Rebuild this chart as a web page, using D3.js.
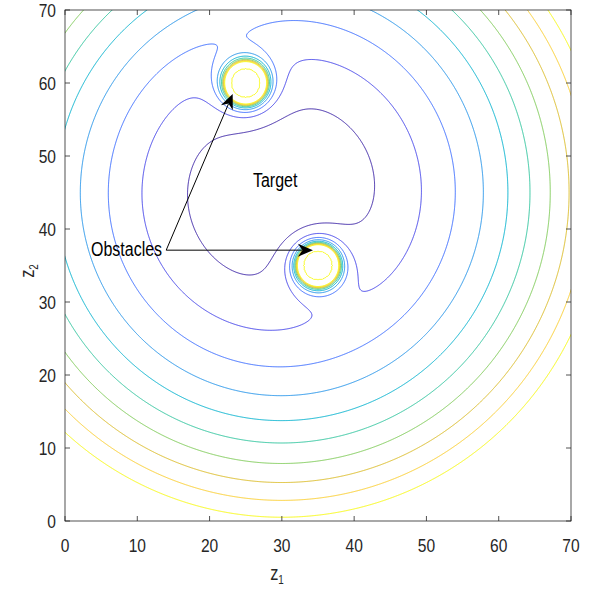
<!DOCTYPE html>
<html><head><meta charset="utf-8">
<script src="https://cdn.jsdelivr.net/npm/d3@7"></script>
<style>body{margin:0;background:#fff}svg{display:block}</style>
</head><body>
<svg id="c" width="590" height="592"></svg>
<script>
// ---- data ----
const xTicks = [0, 10, 20, 30, 40, 50, 60, 70];
const yTicks = [0, 10, 20, 30, 40, 50, 60, 70];
const target = [30, 45];
const obstacleX = [25, 35];
const obstacleY = [60, 35];
const obstacleRadius = [2, 2];
const attractGain = 0.5;
const repelGain = 6360;
const repelPower = 1.35;
const levels = [90, 190, 290, 390, 490, 590, 690, 790, 890, 990];
const insideValue = 940;
const targetLabel = {text: "Target", z1: 26.0, z2: 45.8};
const obstacleLabel = {text: "Obstacles", z1: 3.6, z2: 36.3};
const arrowStart = [14.0, 37.1];
const arrowEndsZ1 = [23.2, 34.3];
const arrowEndsZ2 = [58.5, 37.1];

// ---- styles ----
const levelColors = ["#3e26a8","#4747eb","#3e6fff","#2796eb","#08b4d0","#31c69f","#80cc59","#dcbd29","#fccf30","#f9fb14"];
const axisColor = "#262626";

function hasFont(f){
  const c=document.createElement('canvas').getContext('2d');
  c.font='40px monospace'; const w1=c.measureText('Obstacles 0123').width;
  c.font='40px "'+f+'", monospace'; const w2=c.measureText('Obstacles 0123').width;
  return Math.abs(w1-w2)>1;
}
const narrow = hasFont("Liberation Sans Narrow");
const fontFam = narrow ? '"Liberation Sans Narrow"' : '"Liberation Sans", Arial, sans-serif';
const sx = narrow ? 1 : 0.82;

const svg = d3.select('#c');
const X = d3.scaleLinear().domain([0,70]).range([65,571]);
const Y = d3.scaleLinear().domain([0,70]).range([521,10]);

// ---- field grid ----
const g0 = -3, step = 0.1, n = Math.round(76/step)+1;
const vals = new Float64Array(n*n);
for (let j=0;j<n;j++){
  const zy = g0 + j*step;
  for (let i=0;i<n;i++){
    const zx = g0 + i*step;
    let u = attractGain*((zx-target[0])**2 + (zy-target[1])**2);
    let inside = false;
    for (let k=0;k<obstacleX.length;k++){
      const r2 = (zx-obstacleX[k])**2 + (zy-obstacleY[k])**2;
      const R2 = obstacleRadius[k]**2;
      if (r2 <= R2){ inside = true; break; }
      u += repelGain/Math.pow(r2-R2, repelPower);
    }
    vals[j*n+i] = inside ? insideValue : Math.min(u, 1e6);
  }
}
const cs = d3.contours().size([n,n]).thresholds(levels)(vals);
const proj = d3.geoTransform({point(x,y){ this.stream.point(X(g0+(x-0.5)*step), Y(g0+(y-0.5)*step)); }});
const path = d3.geoPath(proj);

svg.append('defs').append('clipPath').attr('id','clip')
  .append('rect').attr('x',X(0)).attr('y',Y(70)).attr('width',X(70)-X(0)).attr('height',Y(0)-Y(70));

const plot = svg.append('g').attr('clip-path','url(#clip)');
plot.selectAll('path.lev').data(cs).join('path')
  .attr('class','lev')
  .attr('d', path)
  .attr('fill','none')
  .attr('stroke',(d,i)=>levelColors[i])
  .attr('stroke-width',1);

// ---- axes ----
const ax = svg.append('g');
ax.append('rect').attr('x',X(0)).attr('y',Y(70)).attr('width',X(70)-X(0)).attr('height',Y(0)-Y(70))
  .attr('fill','none').attr('stroke',axisColor).attr('stroke-width',0.8);
const tl = 5;
xTicks.forEach(t=>{
  ax.append('line').attr('x1',X(t)).attr('x2',X(t)).attr('y1',Y(0)).attr('y2',Y(0)-tl).attr('stroke',axisColor).attr('stroke-width',0.8);
  ax.append('line').attr('x1',X(t)).attr('x2',X(t)).attr('y1',Y(70)).attr('y2',Y(70)+tl).attr('stroke',axisColor).attr('stroke-width',0.8);
});
yTicks.forEach(t=>{
  ax.append('line').attr('y1',Y(t)).attr('y2',Y(t)).attr('x1',X(0)).attr('x2',X(0)+tl).attr('stroke',axisColor).attr('stroke-width',0.8);
  ax.append('line').attr('y1',Y(t)).attr('y2',Y(t)).attr('x1',X(70)).attr('x2',X(70)-tl).attr('stroke',axisColor).attr('stroke-width',0.8);
});
function txt(parent, s, x, y, anchor, size, rot){
  const g = parent.append('g').attr('transform',`translate(${x},${y})`+(rot?` rotate(${rot})`:'')+` scale(${sx},1)`);
  return g.append('text').attr('x',0).attr('y',0).attr('text-anchor',anchor)
    .attr('font-family',fontFam).attr('font-size',size).attr('fill',axisColor).text(s);
}
xTicks.forEach(t=> txt(ax, String(t), X(t), 552, 'middle', 19));
yTicks.forEach(t=> txt(ax, String(t), 56, Y(t)+7, 'end', 19));
// axis titles
const xt = txt(ax, 'z', 277, 580, 'middle', 20);
xt.append('tspan').attr('dy',4).attr('font-size',12).text('1');
const yt = txt(ax, 'z', 34, 271, 'middle', 20, -90);
yt.append('tspan').attr('dy',4).attr('font-size',12).text('2');

// ---- annotations ----
const ann = svg.append('g');
txt(ann, targetLabel.text, X(targetLabel.z1), Y(targetLabel.z2), 'start', 19.5).attr('fill','#000');
txt(ann, obstacleLabel.text, X(obstacleLabel.z1), Y(obstacleLabel.z2), 'start', 19.5).attr('fill','#000');
arrowEndsZ1.forEach((ez,i)=>{
  const x1=X(arrowStart[0]), y1=Y(arrowStart[1]), x2=X(ez), y2=Y(arrowEndsZ2[i]);
  const a=Math.atan2(y2-y1,x2-x1), L=15, W=6.5;
  const bx=x2-L*Math.cos(a), by=y2-L*Math.sin(a);
  ann.append('line').attr('x1',x1).attr('y1',y1).attr('x2',bx+4*Math.cos(a)).attr('y2',by+4*Math.sin(a))
    .attr('stroke','#000').attr('stroke-width',1);
  const px=-Math.sin(a), py=Math.cos(a);
  const nx=x2-0.7*L*Math.cos(a), ny=y2-0.7*L*Math.sin(a);
  ann.append('path').attr('d',`M${x2},${y2}L${bx+W*px},${by+W*py}L${nx},${ny}L${bx-W*px},${by-W*py}Z`).attr('fill','#000');
});
</script>
</body></html>
